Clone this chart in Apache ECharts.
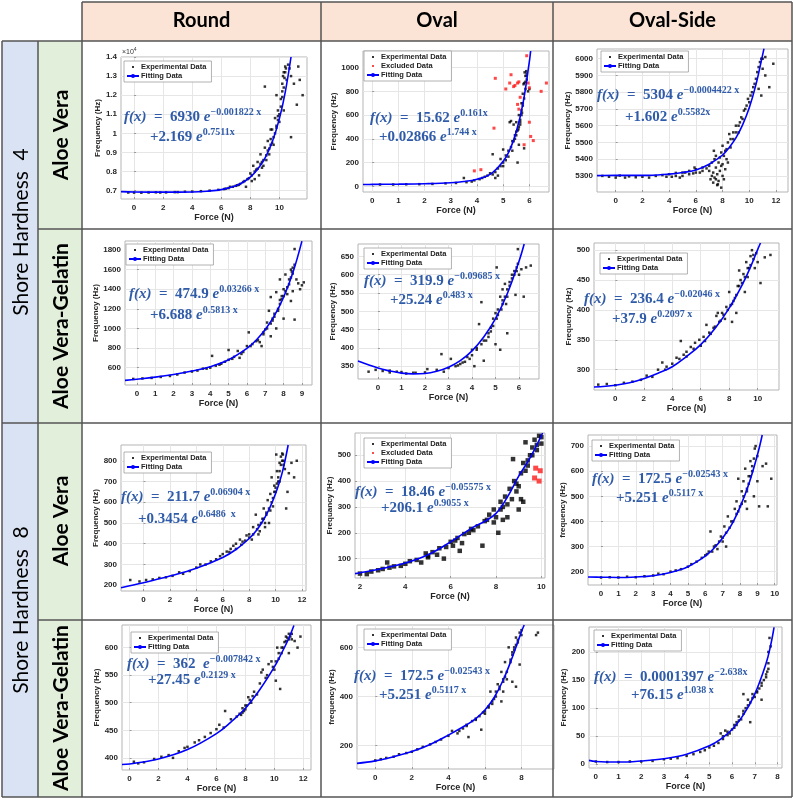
<!DOCTYPE html>
<html>
<head>
<meta charset="utf-8">
<script src="https://cdn.jsdelivr.net/npm/echarts@6/dist/echarts.min.js"></script>
<style>
html, body {margin: 0; padding: 0; background: #fff;}
#main {width: 793px; height: 800px;}
</style>
</head>
<body>
<div id="main"></div>
<script>
let chart = echarts.init(document.getElementById('main'));

// table labels
let col_names = ['Round', 'Oval', 'Oval-Side'];
let hardness_names = ['Shore Hardness  4', 'Shore Hardness  8'];
let material_names = ['Aloe Vera', 'Aloe Vera-Gelatin', 'Aloe Vera', 'Aloe Vera-Gelatin'];

// tick values of each panel (row by row)
let ticks_x = [
    [0, 2, 4, 6, 8, 10], [0, 1, 2, 3, 4, 5, 6], [0, 2, 4, 6, 8, 10, 12],
    [0, 1, 2, 3, 4, 5, 6, 7, 8, 9], [0, 1, 2, 3, 4, 5, 6], [0, 2, 4, 6, 8, 10],
    [0, 2, 4, 6, 8, 10, 12], [2, 4, 6, 8, 10], [0, 1, 2, 3, 4, 5, 6, 7, 8, 9, 10],
    [0, 2, 4, 6, 8, 10, 12], [0, 2, 4, 6, 8], [0, 1, 2, 3, 4, 5, 6, 7, 8]
];
let ticks_y = [
    [7000, 8000, 9000, 10000, 11000, 12000, 13000, 14000], [0, 200, 400, 600, 800, 1000], [5300, 5400, 5500, 5600, 5700, 5800, 5900, 6000],
    [600, 800, 1000, 1200, 1400, 1600, 1800], [350, 400, 450, 500, 550, 600, 650], [300, 350, 400, 450, 500],
    [200, 300, 400, 500, 600, 700, 800], [100, 200, 300, 400, 500], [200, 300, 400, 500, 600, 700],
    [400, 450, 500, 550, 600], [200, 400, 600], [0, 50, 100, 150, 200]
];
let y_names = [
    'Frequency (Hz)', 'Frequency (Hz)', 'Frequency (Hz)',
    'Frequency (Hz)', 'Frequency (Hz)', 'Frequency (Hz)',
    'Frequency (Hz)', 'Frequancy (Hz)', 'frequency (Hz)',
    'Frequency (Hz)', 'frequency (Hz)', 'Frequency (Hz)'
];

// fitted equations
let eq_a = ['6930', '15.62', '5304', '474.9', '319.9', '236.4', '211.7', '18.46', '172.5', '362 ', '172.5', '0.0001397'];
let eq_a_pow = ['−0.001822 x', '0.161x', '−0.0004422 x', '0.03266 x', '−0.09685 x', '−0.02046 x', '0.06904 x', '−0.05575 x', '−0.02543 x', '−0.007842 x', '−0.02543 x', '−2.638x'];
let eq_b = ['2.169', '0.02866', '1.602', '6.688', '25.24', '37.9', '0.3454', '206.1', '5.251', '27.45', '5.251', '76.15'];
let eq_b_pow = ['0.7511x', '1.744 x', '0.5582x', '0.5813 x', '0.483 x', '0.2097 x', '0.6486  x', '0.9055 x', '0.5117 x', '0.2129 x', '0.5117 x', '1.038 x'];

// ---- Shore 4, Aloe Vera, Round ----
let p1_exp = [[-0.4,6900],[0,6895],[0.5,6890],[1,6900],[1.5,6910],[1.8,6900],[2.2,6905],[2.8,6920],[3,6920],[3.5,6940],[4,6950],[4.6,6970],[5.2,7000],[5.8,7040],[6.2,7080],[6.3,7100],[6.5,7130],[6.6,7200],[6.8,7200],[7,7250],[7.1,7280],[7.2,7300],[7.3,7350],[7.5,7450],[7.6,7500],[7.7,7200],[7.8,7600],[7.9,7650],[8,7900],[8.1,7500],[8.1,7800],[8.2,8300],[8.3,7600],[8.3,8000],[8.4,8100],[8.5,8500],[8.5,8150],[8.6,7800],[8.7,8900],[8.7,8400],[8.8,8200],[8.8,8500],[8.9,8300],[8.9,8600],[9,9250],[9,12450],[9.1,8600],[9.1,8850],[9.2,9600],[9.2,9100],[9.3,8900],[9.3,9200],[9.4,9700],[9.4,10200],[9.4,9400],[9.5,10200],[9.5,9500],[9.6,9400],[9.6,9800],[9.7,10800],[9.7,10000],[9.8,10300],[9.8,12000],[9.8,10400],[9.9,11200],[9.9,10700],[9.9,10900],[10,10600],[10,11000],[10.1,11800],[10.1,11400],[10.2,12600],[10.2,11900],[10.2,12200],[10.25,13000],[10.3,13200],[10.3,11200],[10.3,12400],[10.35,12900],[10.4,13500],[10.4,13200],[10.45,13400],[10.5,12800],[10.6,13600],[10.7,13400],[10.8,13000],[10.8,9800],[11,12600],[11.2,11500],[11.3,13500],[11.4,12800],[11.6,12000]];
let p1_fit = [[-0.9,6945],[0,6930],[2,6920],[4,6930],[5,6970],[6,7050],[7,7260],[7.5,7440],[8,7710],[8.5,8120],[9,8690],[9.5,9530],[10,10770],[10.4,12150],[10.8,14000]];

// ---- Shore 4, Aloe Vera, Oval ----
let p2_exp = [[0.3,15],[0.8,15],[1.3,17],[1.8,18],[2.3,20],[2.8,25],[3.2,28],[3.5,70],[3.6,35],[3.8,40],[3.9,50],[4.1,60],[4.2,70],[4.3,80],[4.4,90],[4.5,110],[4.6,270],[4.6,100],[4.7,120],[4.7,70],[4.8,150],[4.8,90],[4.9,230],[4.9,170],[5,170],[5,310],[5,200],[5.1,260],[5.1,220],[5.2,300],[5.2,250],[5.25,540],[5.3,550],[5.3,330],[5.35,380],[5.35,300],[5.4,520],[5.4,380],[5.45,430],[5.45,400],[5.5,460],[5.5,430],[5.55,200],[5.55,470],[5.5,540],[5.58,480],[5.6,600],[5.6,350],[5.6,500],[5.65,520],[5.65,560],[5.65,540],[5.7,700],[5.7,640],[5.7,600],[5.72,620],[5.75,780],[5.75,680],[5.75,700],[5.78,860],[5.8,870],[5.8,320],[5.8,740],[5.82,960],[5.85,930],[5.85,820],[5.85,880],[5.88,970],[5.9,950],[5.9,900],[5.9,930],[5.95,800],[6,820]];
let p2_excl = [[3.9,130],[4.15,140],[4.65,490],[4.7,910],[5.1,820],[5.25,870],[5.3,940],[5.4,840],[5.45,850],[5.55,870],[5.6,880],[5.55,690],[5.6,650],[5.65,750],[5.8,350],[5.9,1100],[5.95,870],[6,830],[6,540],[6.05,420],[6.15,385],[6.45,800],[6.65,870]];
let p2_fit = [[-0.35,15],[0,16],[1,18],[2,22],[3,30],[3.5,40],[4,60],[4.5,100],[5,211],[5.25,305],[5.5,460],[5.75,690],[6,1050],[6.05,1140]];

// ---- Shore 4, Aloe Vera, Oval-Side ----
let p3_exp = [[-1,5300],[-0.5,5295],[0,5290],[0.3,5302],[0.7,5290],[1,5297],[1.5,5292],[2,5295],[2.5,5290],[3,5300],[3.5,5305],[3.8,5295],[4,5310],[4.2,5295],[4.5,5318],[4.5,5300],[4.8,5290],[5,5300],[5,5320],[5.2,5320],[5.5,5330],[5.5,5310],[5.8,5315],[5.9,5350],[6,5340],[6,5320],[6.3,5320],[6.5,5350],[6.5,5330],[6.8,5345],[7,5360],[7,5330],[7.1,5280],[7.2,5300],[7.2,5380],[7.3,5260],[7.3,5320],[7.35,5450],[7.4,5400],[7.4,5290],[7.5,5280],[7.5,5350],[7.5,5420],[7.6,5245],[7.6,5310],[7.65,5250],[7.7,5380],[7.7,5270],[7.8,5330],[7.8,5410],[7.9,5440],[7.9,5230],[7.9,5360],[8,5370],[8,5300],[8,5480],[8.1,5280],[8.1,5420],[8.2,5450],[8.2,5340],[8.3,5400],[8.3,5460],[8.4,5500],[8.4,5380],[8.5,5550],[8.6,5470],[8.6,5520],[8.8,5520],[8.8,5560],[9,5560],[9,5600],[9.2,5600],[9.2,5560],[9.3,5620],[9.4,5650],[9.5,5640],[9.6,5690],[9.7,5700],[9.8,5720],[9.9,5760],[10,5740],[10.1,5780],[10.2,5800],[10.3,5830],[10.4,5850],[10.5,5880],[10.6,5920],[10.7,5820],[10.7,5950],[10.8,5980],[10.9,5780],[10.9,6000],[11,6000],[11,5940],[11.2,5900],[11.2,6010],[11.5,5830],[11.8,5970]];
let p3_fit = [[-1.4,5302],[0,5304],[2,5303],[4,5311],[5,5320],[6,5336],[7,5370],[8,5425],[8.5,5470],[9,5527],[9.5,5605],[10,5707],[10.5,5845],[11,6023],[11.1,6060]];

// ---- Shore 4, Aloe Vera-Gelatin, Round ----
let p4_exp = [[-0.2,485],[0.3,490],[0.8,495],[1.3,505],[1.8,515],[2.2,530],[2.6,550],[3,560],[3.3,570],[3.6,590],[3.8,590],[4,600],[4.1,720],[4.3,620],[4.5,630],[4.6,640],[4.8,660],[5,780],[5,680],[5.2,690],[5.3,710],[5.5,770],[5.6,700],[5.7,740],[5.8,760],[6,820],[6.1,960],[6.2,820],[6.3,840],[6.5,870],[6.6,880],[6.7,860],[6.8,820],[6.9,940],[6.9,960],[7,990],[7.1,1060],[7.1,1000],[7.2,1180],[7.3,920],[7.3,1320],[7.3,1050],[7.4,1100],[7.4,1080],[7.5,1150],[7.5,1120],[7.6,1000],[7.6,1370],[7.7,1180],[7.7,1200],[7.8,1290],[7.8,1500],[7.8,1250],[7.9,1330],[7.9,1300],[8,1400],[8,1100],[8,1330],[8.1,1550],[8.1,1380],[8.2,1350],[8.2,1420],[8.3,1450],[8.3,1500],[8.4,1600],[8.4,1280],[8.4,1520],[8.45,1580],[8.5,1620],[8.5,1380],[8.5,1560],[8.6,1810],[8.6,1090],[8.6,1650],[8.7,1500],[8.8,1460],[8.9,1400],[9,1440],[9.1,1470]];
let p4_fit = [[-0.65,470],[0,482],[1,503],[2,530],[3,565],[4,610],[5,681],[6,797],[6.5,880],[7,989],[7.5,1130],[8,1318],[8.5,1565],[9,1891]];

// ---- Shore 4, Aloe Vera-Gelatin, Oval ----
let p5_exp = [[-0.4,335],[-0.1,340],[0.2,337],[0.5,333],[0.5,338],[0.8,335],[1,334],[1.2,330],[1.5,332],[1.6,332],[2,333],[2.1,342],[2.5,340],[2.7,383],[2.8,335],[3,345],[3.1,370],[3.3,350],[3.4,352],[3.5,356],[3.6,360],[3.7,362],[3.8,375],[3.9,370],[4,380],[4,395],[4.1,350],[4.2,395],[4.2,400],[4.3,465],[4.4,410],[4.4,525],[4.5,365],[4.5,420],[4.6,420],[4.7,440],[4.7,430],[4.8,455],[4.8,445],[4.9,480],[4.9,460],[5,495],[5,410],[5.05,620],[5.05,480],[5.1,505],[5.1,490],[5.2,540],[5.2,395],[5.25,505],[5.3,530],[5.3,560],[5.3,520],[5.4,575],[5.4,540],[5.45,520],[5.5,540],[5.5,440],[5.5,560],[5.6,580],[5.6,570],[5.7,600],[5.7,590],[5.8,610],[5.8,600],[5.85,545],[5.9,620],[5.9,610],[5.95,670],[5.95,630],[6,600],[6.1,615],[6.2,540],[6.3,620],[6.5,625]];
let p5_fit = [[-0.85,364],[0,345],[0.5,337],[1,331],[1.5,329],[2,330],[2.5,336],[3,347],[3.5,365],[4,392],[4.5,430],[5,480],[5.5,548],[6,637],[6.22,684]];

// ---- Shore 4, Aloe Vera-Gelatin, Oval-Side ----
let p6_exp = [[-1.2,275],[-0.6,276],[0,274],[0.6,278],[1.2,280],[1.8,283],[2.2,290],[2.6,288],[3,300],[3.3,312],[3.5,300],[3.6,305],[4,310],[4.3,320],[4.5,318],[4.6,348],[4.8,325],[5,330],[5,322],[5.3,338],[5.5,335],[5.6,345],[5.9,350],[6,340],[6.2,355],[6.3,348],[6.4,375],[6.6,362],[6.7,360],[6.9,370],[7,372],[7.1,390],[7.2,395],[7.3,380],[7.4,382],[7.5,395],[7.6,392],[7.7,385],[7.8,405],[7.9,400],[8,430],[8.1,408],[8.2,410],[8.2,380],[8.3,415],[8.4,420],[8.5,395],[8.5,425],[8.6,440],[8.7,466],[8.7,440],[8.8,450],[8.9,445],[9,460],[9.1,430],[9.1,455],[9.2,480],[9.3,455],[9.3,470],[9.4,470],[9.5,490],[9.5,475],[9.6,500],[9.7,485],[9.7,492],[9.8,470],[9.9,495],[10,480],[10.2,445],[10.5,488],[10.9,492]];
let p6_fit = [[-1.5,271],[0,274],[1,278],[2,285],[3,294],[4,305],[5,322],[6,342],[7,369],[8,403],[9,446],[9.5,472],[10,501],[10.2,512]];

// ---- Shore 8, Aloe Vera, Round ----
let p7_exp = [[-1,225],[-0.3,218],[0.2,225],[0.7,228],[1.2,235],[1.7,238],[2.2,245],[2.7,262],[3,255],[3.5,268],[4,285],[4.3,300],[4.7,300],[5.1,315],[5.5,325],[5.8,340],[6,350],[6.3,362],[6.5,360],[6.6,375],[6.8,390],[7,400],[7,375],[7.3,420],[7.4,395],[7.5,410],[7.7,415],[7.8,440],[8,445],[8,430],[8.2,420],[8.3,480],[8.3,445],[8.5,540],[8.6,470],[8.7,490],[8.7,445],[8.8,460],[8.9,500],[9,520],[9.1,570],[9.1,520],[9.2,480],[9.2,500],[9.3,550],[9.3,540],[9.4,610],[9.5,500],[9.5,570],[9.6,640],[9.6,560],[9.7,720],[9.7,600],[9.8,580],[9.8,620],[9.9,680],[9.9,650],[10,650],[10,670],[10.05,830],[10.1,750],[10.1,690],[10.2,700],[10.2,720],[10.3,790],[10.3,750],[10.3,700],[10.4,820],[10.4,780],[10.5,835],[10.5,800],[10.55,830],[10.6,800],[10.6,780],[10.7,760],[10.8,570],[10.9,650],[11,740],[11.2,790],[11.4,720],[11.6,800]];
let p7_fit = [[-1.7,188],[0,212],[2,244],[4,282],[6,334],[7,372],[8,425],[8.5,460],[9,506],[9.5,565],[10,642],[10.5,743],[10.95,876]];

// ---- Shore 8, Aloe Vera, Oval ----
let p8_exp = [[2,42],[2.3,40],[2.5,50],[2.8,55],[3,60],[3.2,85],[3.3,65],[3.5,70],[3.8,72],[4,80],[4.2,90],[4.5,95],[4.7,85],[4.9,120],[5,105],[5,110],[5.2,125],[5.4,115],[5.5,140],[5.7,100],[5.8,145],[6,165],[6.1,150],[6.2,170],[6.3,180],[6.4,130],[6.5,160],[6.6,195],[6.8,200],[6.9,215],[7,210],[7.2,225],[7.4,150],[7.5,245],[7.6,250],[7.7,270],[7.9,290],[7.9,240],[8,260],[8.1,200],[8.2,320],[8.2,290],[8.3,300],[8.3,250],[8.4,340],[8.5,310],[8.5,260],[8.6,370],[8.7,330],[8.75,485],[8.8,400],[8.9,360],[8.9,390],[9,380],[9,290],[9.1,330],[9.1,430],[9.2,470],[9.2,320],[9.3,440],[9.3,550],[9.4,480],[9.4,460],[9.5,500],[9.6,530],[9.6,500],[9.7,560],[9.8,520],[9.8,540],[9.9,575],[10,545],[10,570]];
let p8_excl = [[9.75,450],[9.95,440],[9.7,412],[9.9,400]];
let p8_fit = [[1.78,42],[2,45],[3,62],[4,83],[5,115],[6,165],[7,222],[7.5,244],[8,275],[8.5,338],[9,419],[9.5,490],[10,576],[10.05,586]];

// ---- Shore 8, Aloe Vera, Oval-Side ----
let p9_exp = [[0,177],[0.5,178],[1,177],[1.5,180],[2,178],[2.5,182],[3,185],[3.3,192],[3.6,190],[4,200],[4.3,205],[4.6,210],[5,220],[5.2,230],[5.5,240],[5.8,255],[6,265],[6.1,270],[6.2,280],[6.3,360],[6.4,280],[6.5,300],[6.6,305],[6.7,290],[6.8,320],[6.9,340],[7,320],[7,335],[7.1,380],[7.2,300],[7.2,355],[7.3,420],[7.4,375],[7.5,400],[7.6,400],[7.7,450],[7.8,480],[7.8,430],[7.9,570],[7.9,440],[8,460],[8.1,520],[8.1,470],[8.2,560],[8.2,500],[8.3,610],[8.3,480],[8.4,520],[8.4,450],[8.4,530],[8.5,580],[8.5,550],[8.6,640],[8.6,580],[8.7,600],[8.7,620],[8.8,500],[8.8,650],[8.85,690],[8.9,700],[9,660],[9,560],[9.1,460],[9.3,620],[9.5,630],[9.6,460],[9.8,570]];
let p9_fit = [[-0.75,179],[0,178],[1,177],[2,179],[3,184],[4,197],[5,220],[6,262],[6.5,293],[7,334],[7.5,385],[8,457],[8.5,547],[9,664],[9.28,744]];

// ---- Shore 8, Aloe Vera-Gelatin, Round ----
let p10_exp = [[0.3,393],[0.6,390],[1,392],[1.7,398],[2.2,402],[2.7,405],[3,400],[3.4,412],[3.8,418],[4,420],[4.5,428],[4.8,432],[5.2,438],[5.6,445],[6,452],[6.2,460],[6.5,455],[6.6,485],[7,470],[7.4,475],[7.6,480],[7.7,478],[7.8,482],[7.8,490],[7.9,485],[8,495],[8,488],[8.1,495],[8.2,510],[8.3,505],[8.4,500],[8.5,512],[8.6,520],[8.8,515],[9,535],[9.1,555],[9.2,560],[9.4,545],[9.5,550],[9.6,570],[9.8,575],[9.9,565],[10,560],[10.1,540],[10.1,575],[10.2,600],[10.3,590],[10.3,580],[10.4,525],[10.5,600],[10.5,590],[10.6,600],[10.7,610],[10.8,620],[10.8,612],[10.9,618],[11,615],[11,590],[11,625],[11.1,620],[11.2,625],[11.2,615],[11.4,612],[11.6,600],[11.8,620]];
let p10_fit = [[-0.52,388],[0,389],[2,398],[4,415],[6,444],[7,465],[8,490],[9,524],[10,565],[10.5,590],[11,617],[11.35,640]];

// ---- Shore 8, Aloe Vera-Gelatin, Oval ----
let p11_exp = [[0,140],[0.3,145],[0.6,150],[1,155],[1.3,165],[1.7,170],[2,175],[2.3,185],[2.6,195],[3,205],[3.3,215],[3.6,225],[4,240],[4.2,260],[4.5,250],[4.6,260],[4.8,270],[5,285],[5,280],[5.1,235],[5.3,300],[5.5,305],[5.5,310],[5.7,320],[5.8,265],[5.9,335],[6,340],[6,330],[6.2,360],[6.2,355],[6.3,420],[6.4,380],[6.4,370],[6.5,390],[6.6,420],[6.6,400],[6.7,450],[6.8,440],[6.8,430],[6.9,380],[6.9,500],[7,470],[7,420],[7,460],[7.1,540],[7.1,480],[7.2,470],[7.2,500],[7.3,600],[7.4,540],[7.4,550],[7.5,580],[7.5,460],[7.5,570],[7.6,600],[7.6,590],[7.7,440],[7.7,640],[7.7,610],[7.8,630],[7.8,620],[7.9,530],[7.9,660],[8,670],[8,650],[8.8,650],[8.9,660]];
let p11_fit = [[-1,128],[0,138],[1,155],[2,176],[3,205],[4,243],[5,285],[5.5,310],[6,345],[6.5,395],[7,467],[7.5,560],[8,664],[8.15,691]];

// ---- Shore 8, Aloe Vera-Gelatin, Oval-Side ----
let p12_exp = [[0,5],[0.5,4],[1,4],[1.5,5],[2,5],[2.5,6],[3,9],[3.3,10],[3.6,11],[4,15],[4.3,18],[4.6,22],[4.8,25],[5,30],[5.2,33],[5.4,38],[5.5,55],[5.6,45],[5.6,50],[5.7,60],[5.8,52],[5.8,58],[5.9,55],[6,62],[6.1,70],[6.1,65],[6.2,75],[6.2,70],[6.3,85],[6.3,78],[6.4,80],[6.5,95],[6.5,125],[6.5,90],[6.6,100],[6.7,115],[6.7,105],[6.8,110],[6.8,75],[6.9,125],[6.9,118],[7,120],[7.1,130],[7.1,128],[7.2,135],[7.3,145],[7.3,115],[7.3,140],[7.4,150],[7.5,160],[7.5,155],[7.55,165],[7.6,170],[7.6,200],[7.6,180],[7.65,225],[7.7,210]];
let p12_fit = [[-0.3,7],[0,5],[1,4],[2,6],[3,10],[4,18],[5,33],[5.5,45],[6,62],[6.5,88],[7,125],[7.5,180],[7.7,212],[7.85,244]];

let exp_data = [p1_exp, p2_exp, p3_exp, p4_exp, p5_exp, p6_exp, p7_exp, p8_exp, p9_exp, p10_exp, p11_exp, p12_exp];
let fit_data = [p1_fit, p2_fit, p3_fit, p4_fit, p5_fit, p6_fit, p7_fit, p8_fit, p9_fit, p10_fit, p11_fit, p12_fit];
let excl_data = {1: p2_excl, 7: p8_excl};

// panel layout: plot box, axis extent, name gaps, legend and equation positions
let panels = [
    {g: [121, 57, 186, 142], x: [-0.9, 11.9], y: [6560, 14000], xg: 14, yg: 17, lg: [124, 61], e1: [124, 117], e2: [150, 137]},
    {g: [363, 51, 186, 141], x: [-0.35, 6.75], y: [-48, 1140], xg: 14, yg: 23, lg: [364, 51], e1: [370, 118], e2: [379, 137]},
    {g: [597, 49, 191, 143], x: [-1.4, 12.9], y: [5204, 6058], xg: 14, yg: 21, lg: [601, 51], e1: [597, 95], e2: [625, 117]},
    {g: [125, 241, 187, 144], x: [-0.65, 9.55], y: [423, 1892], xg: 14, yg: 24, lg: [126, 244], e1: [129, 294], e2: [150, 315]},
    {g: [358, 244, 181, 135], x: [-0.85, 6.85], y: [315, 684], xg: 13, yg: 17, lg: [364, 248], e1: [364, 281], e2: [390, 300]},
    {g: [594, 243, 185, 147], x: [-1.5, 11.5], y: [266, 512], xg: 14, yg: 18, lg: [600, 253], e1: [584, 299], e2: [612, 319]},
    {g: [121, 445, 185, 146], x: [-1.7, 12.3], y: [172, 876], xg: 9, yg: 19, lg: [124, 452], e1: [121, 497], e2: [138, 519]},
    {g: [355, 433, 190, 145], x: [1.78, 10.16], y: [25, 586], xg: 14, yg: 19, lg: [364, 438], e1: [355, 492], e2: [381, 508]},
    {g: [588, 435, 189, 150], x: [-0.75, 10.13], y: [147, 744], xg: 12, yg: 21, lg: [592, 440], e1: [592, 479], e2: [616, 498]},
    {g: [122, 625, 189, 145], x: [-0.52, 12.53], y: [378, 641], xg: 13, yg: 19, lg: [131, 632], e1: [127, 664], e2: [148, 680]},
    {g: [357, 625, 197, 144], x: [-1, 9.78], y: [105, 691], xg: 14, yg: 19, lg: [364, 629], e1: [354, 676], e2: [379, 695]},
    {g: [589, 627, 193, 141], x: [-0.3, 8.2], y: [-6.6, 244.5], xg: 14, yg: 21, lg: [594, 630], e1: [594, 677], e2: [631, 695]}
];

let eq_color = '#2f5ba9';
let dot_icon = 'path://M0,0M12,5M5,1.5h2v2h-2z';
let tick_font = {fontFamily: 'Liberation Sans', fontSize: 8, fontWeight: 'bold', color: '#262626'};

// graphic text uses zrender style keys (fill)
let eq_rich = {
    n: {fontFamily: 'Liberation Serif', fontSize: 15, fontWeight: 'bold', fill: eq_color, lineHeight: 20},
    i: {fontFamily: 'Liberation Serif', fontSize: 15, fontWeight: 'bold', fontStyle: 'italic', fill: eq_color, lineHeight: 20},
    s: {fontFamily: 'Liberation Serif', fontSize: 10, fontWeight: 'bold', fill: eq_color, lineHeight: 10, verticalAlign: 'top'}
};

let grids = [], x_axes = [], y_axes = [], series = [], legends = [], graphics = [];

panels.forEach(function (p, i) {
    grids.push({
        left: p.g[0], top: p.g[1], width: p.g[2], height: p.g[3],
        show: true, borderColor: '#b5b5b5', borderWidth: 1, backgroundColor: '#fff',
        containLabel: false, outerBoundsMode: 'none'
    });
    x_axes.push({
        type: 'value', gridIndex: i, min: p.x[0], max: p.x[1],
        name: 'Force (N)', nameLocation: 'middle', nameGap: p.xg,
        nameTextStyle: {fontFamily: 'Liberation Sans', fontSize: 9, fontWeight: 'bold', color: '#262626'},
        axisLine: {show: false},
        axisTick: {show: true, inside: true, length: 2, customValues: ticks_x[i], lineStyle: {color: '#999'}},
        axisLabel: Object.assign({customValues: ticks_x[i], margin: 5, formatter: function (v) { return String(v); }}, tick_font),
        splitLine: {show: true, lineStyle: {color: '#e6e6e6', width: 1}}
    });
    y_axes.push({
        type: 'value', gridIndex: i, min: p.y[0], max: p.y[1],
        name: y_names[i], nameLocation: 'middle', nameGap: p.yg,
        nameTextStyle: {fontFamily: 'Liberation Sans', fontSize: 8, fontWeight: 'bold', color: '#262626'},
        axisLine: {show: false},
        axisTick: {show: true, inside: true, length: 2, customValues: ticks_y[i], lineStyle: {color: '#999'}},
        axisLabel: Object.assign({
            customValues: ticks_y[i], margin: 4,
            formatter: i === 0 ? function (v) { return String(+(v / 10000).toFixed(1)); } : function (v) { return String(v); }
        }, tick_font),
        splitLine: {show: true, lineStyle: {color: '#e6e6e6', width: 1}}
    });

    let big = (i === 7);
    series.push({
        name: 'Experimental Data', type: 'scatter', xAxisIndex: i, yAxisIndex: i,
        data: exp_data[i], symbol: 'rect', symbolSize: big ? 4.5 : 2.5,
        itemStyle: {color: '#000'}, silent: true, z: 2
    });
    let legend_items = [{name: 'Experimental Data', icon: dot_icon}];
    if (excl_data[i]) {
        series.push({
            name: 'Excluded Data', type: 'scatter', xAxisIndex: i, yAxisIndex: i,
            data: excl_data[i], symbol: 'rect', symbolSize: big ? 5 : 3,
            itemStyle: {color: '#ff1a1a'}, silent: true, z: 2
        });
        legend_items.push({name: 'Excluded Data', icon: dot_icon});
    }
    series.push({
        name: 'Fitting Data', type: 'line', xAxisIndex: i, yAxisIndex: i,
        data: fit_data[i], smooth: 0.4, symbol: 'none',
        lineStyle: {color: '#0000ff', width: 1.6}, itemStyle: {color: '#0000ff'}, silent: true, z: 3
    });
    legend_items.push({name: 'Fitting Data'});

    legends.push({
        left: p.lg[0], top: p.lg[1], orient: 'vertical', itemGap: 1,
        itemWidth: 12, itemHeight: 5, padding: [2, 5, 2, 2],
        borderColor: '#a0a0a0', borderWidth: 0.8, backgroundColor: '#fff',
        selectedMode: false,
        textStyle: {fontFamily: 'Liberation Sans', fontSize: 7.5, fontWeight: 'bold', color: '#222', padding: [0, 0, 0, -3]},
        data: legend_items
    });

    graphics.push({
        type: 'text', x: p.e1[0], y: p.e1[1], z: 100,
        style: {
            text: '{i|f(x)}{n|  =  ' + eq_a[i] + ' }{i|e}{s|' + eq_a_pow[i] + '}',
            rich: eq_rich, fill: eq_color, align: 'left', verticalAlign: 'middle'
        }
    });
    graphics.push({
        type: 'text', x: p.e2[0], y: p.e2[1], z: 100,
        style: {
            text: '{n|+' + eq_b[i] + ' }{i|e}{s|' + eq_b_pow[i] + '}',
            rich: eq_rich, fill: eq_color, align: 'left', verticalAlign: 'middle'
        }
    });
});

// x10^4 multiplier of first panel
graphics.push({
    type: 'text', x: 122, y: 52, z: 100,
    style: {
        text: '{a|×10}{b|4}', align: 'left', verticalAlign: 'middle',
        rich: {
            a: {fontFamily: 'Liberation Sans', fontSize: 7, fill: '#333', lineHeight: 10},
            b: {fontFamily: 'Liberation Sans', fontSize: 5, fill: '#333', lineHeight: 5, verticalAlign: 'top'}
        }
    }
});

// table backgrounds
let line_color = '#555';
graphics.push({type: 'rect', z: -10, shape: {x: 82, y: 2, width: 710, height: 39}, style: {fill: '#fbe4d5'}});
graphics.push({type: 'rect', z: -10, shape: {x: 2, y: 41, width: 36, height: 756}, style: {fill: '#dae3f3'}});
graphics.push({type: 'rect', z: -10, shape: {x: 38, y: 41, width: 44, height: 756}, style: {fill: '#e2efda'}});

let h_lines = [[82, 2, 792], [2, 41, 792], [38, 229, 792], [2, 423, 792], [38, 620, 792], [2, 797, 792]];
h_lines.forEach(function (l) {
    graphics.push({type: 'line', z: 50, shape: {x1: l[0], y1: l[1], x2: l[2], y2: l[1]}, style: {stroke: line_color, lineWidth: 1.5}});
});
let v_lines = [[2, 41], [38, 41], [82, 2], [321, 2], [553, 2], [792, 2]];
v_lines.forEach(function (l) {
    graphics.push({type: 'line', z: 50, shape: {x1: l[0], y1: l[1], x2: l[0], y2: 797}, style: {stroke: line_color, lineWidth: 1.5}});
});

let col_centers = [201.5, 437, 672.5];
col_names.forEach(function (t, i) {
    graphics.push({
        type: 'text', x: col_centers[i], y: 21, z: 60,
        style: {text: t, fontFamily: 'Lato', fontSize: 20, fontWeight: 'bold', fill: '#000', align: 'center', verticalAlign: 'middle'}
    });
});
let hard_centers = [232, 610];
hardness_names.forEach(function (t, i) {
    graphics.push({
        type: 'text', x: 21, y: hard_centers[i], rotation: Math.PI / 2, z: 60,
        style: {text: t, fontFamily: 'Lato', fontSize: 21, fill: '#000', align: 'center', verticalAlign: 'middle'}
    });
});
let mat_centers = [135, 326, 521, 708];
material_names.forEach(function (t, i) {
    graphics.push({
        type: 'text', x: 61, y: mat_centers[i], rotation: Math.PI / 2, z: 60,
        style: {text: t, fontFamily: 'Lato', fontSize: 21, fontWeight: 'bold', fill: '#000', align: 'center', verticalAlign: 'middle'}
    });
});

chart.setOption({
    animation: false,
    grid: grids,
    xAxis: x_axes,
    yAxis: y_axes,
    legend: legends,
    series: series,
    graphic: graphics
});
</script>
</body>
</html>
